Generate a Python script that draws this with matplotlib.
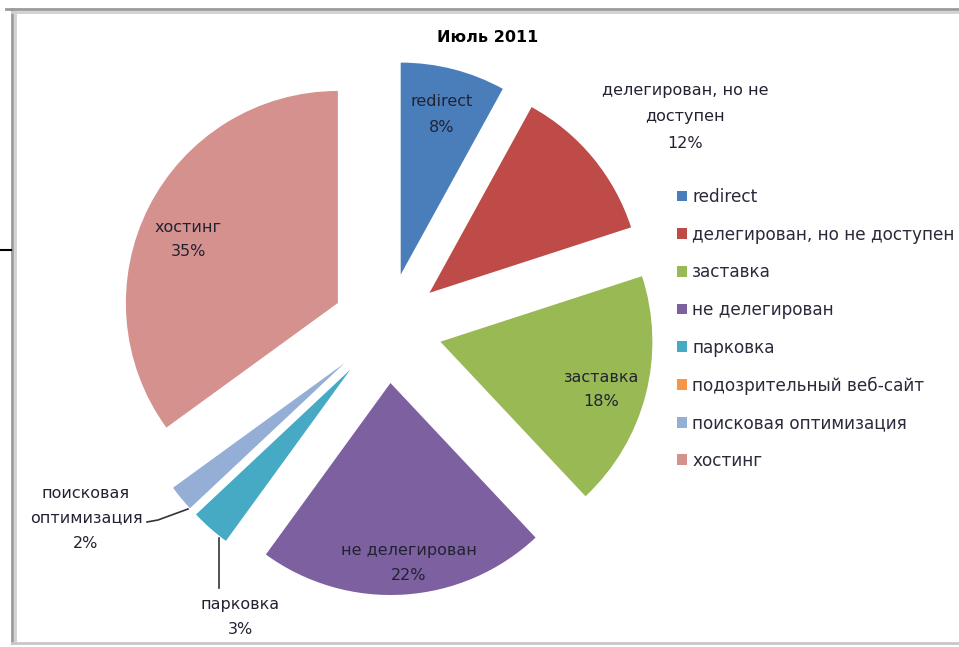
import matplotlib
matplotlib.use("Agg")
import matplotlib.pyplot as plt

categories = ["redirect", "делегирован, но не доступен", "заставка", "не делегирован",
              "парковка", "подозрительный веб-сайт", "поисковая оптимизация", "хостинг"]
values = [8, 12, 18, 22, 3, 0, 2, 35]
colors = ["#4A7EBB", "#BE4B48", "#98B954", "#7D60A0", "#46AAC5", "#F79646", "#94AED6", "#D4918E"]
title = "Июль 2011"

W, H = 959, 647
CX, CY, R = 387, 328, 212  # pie center / radius in pixels (image coords)

fig = plt.figure(figsize=(W / 100, H / 100), dpi=100)
fig.patch.set_facecolor("white")

ax = fig.add_axes([0, 0, 1, 1])
wedges, _ = ax.pie(values, colors=colors, startangle=90, counterclock=False,
                   explode=[0.26] * len(values), radius=1, center=(0, 0),
                   wedgeprops=dict(linewidth=0))
ax.set_xlim(-CX / R, (W - CX) / R)
ax.set_ylim(-(H - CY) / R, CY / R)
ax.set_aspect("auto")
ax.axis("off")

leg = ax.legend(wedges, categories, loc="upper left",
                bbox_to_anchor=(677 / W, 1 - 188 / H), bbox_transform=fig.transFigure,
                frameon=False, fontsize=12.2, handlelength=0.6, handleheight=0.6,
                handletextpad=0.3, labelspacing=1.16, borderpad=0, borderaxespad=0)
for t in leg.get_texts():
    t.set_color("#2a2a3a")

# overlay axes in image pixel coordinates for text and decorations
ov = fig.add_axes([0, 0, 1, 1])
ov.set_xlim(0, W)
ov.set_ylim(H, 0)
ov.axis("off")
ov.patch.set_alpha(0)

tc = "#222233"
fs = 11.5
ov.text(488, 37, title, ha="center", va="center", fontsize=11.5, fontweight="bold", color="black")

def lbl(x, y, lines, dy=25.5):
    for i, s in enumerate(lines):
        ov.text(x, y + i * dy, s, ha="center", va="center", fontsize=fs, color=tc)

lbl(442, 101, ["redirect", "8%"], dy=27)
lbl(685, 91, ["делегирован, но не", "доступен", "12%"], dy=26)
lbl(601, 377, ["заставка", "18%"], dy=24)
lbl(409, 550, ["не делегирован", "22%"], dy=25)
lbl(188, 227, ["хостинг", "35%"], dy=25)
lbl(86, 493, ["поисковая", "оптимизация", "2%"], dy=25)
lbl(240, 605, ["парковка", "3%"], dy=24)

# leader lines
ov.plot([147, 158, 188], [522, 520, 509], color="#333333", lw=1.2)
ov.plot([219, 219], [538, 588], color="#333333", lw=1.2)

# frame
ov.plot([12, 12], [9, 643], color="#9a9a9a", lw=2)
ov.plot([15, 15], [12, 643], color="#d0d0d0", lw=2)
ov.plot([6, W], [9, 9], color="#9a9a9a", lw=2)
ov.plot([12, W], [12, 12], color="#d0d0d0", lw=2)
ov.plot([12, W], [643, 643], color="#c8c8c8", lw=2)
ov.plot([0, 11], [250, 250], color="black", lw=1.5)

fig.savefig("out.png", dpi=100, facecolor="white")
